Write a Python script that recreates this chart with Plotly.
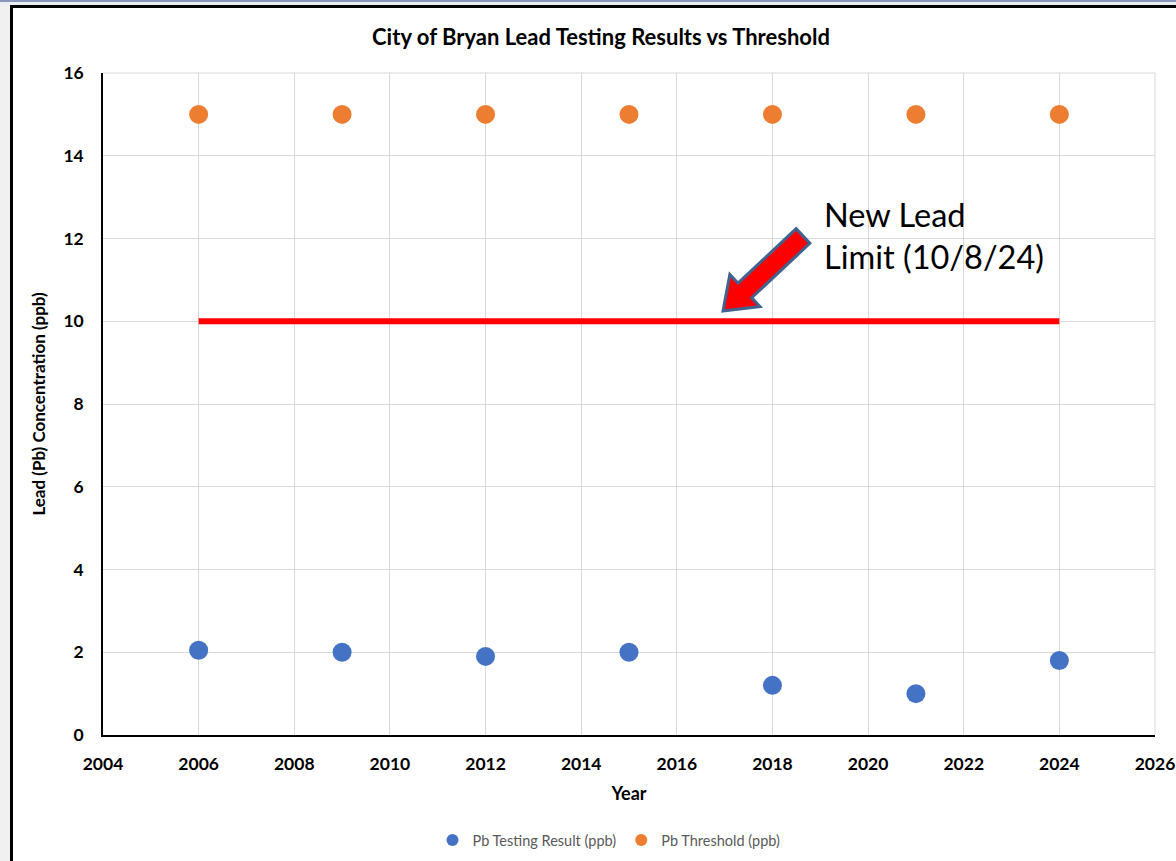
import plotly.graph_objects as go
import math

years = [2006, 2009, 2012, 2015, 2018, 2021, 2024]
pb_result = [2.05, 2.0, 1.9, 2.0, 1.2, 1.0, 1.8]
pb_threshold = [15, 15, 15, 15, 15, 15, 15]
new_limit_x = [2006, 2024]
new_limit_y = [10, 10]

W, H = 1176, 861
L, R, T, B = 103, 21, 73, 126
X0, X1, Y0, Y1 = 2004, 2026, 0, 16
pw, ph = W - L - R, H - T - B

FONT = "Lato"

def px2data(px, py):
    return (X0 + (px - L) / pw * (X1 - X0), Y0 + (H - B - py) / ph * (Y1 - Y0))

def px2paper(px, py):
    return ((px - L) / pw, (H - B - py) / ph)

fig = go.Figure()
fig.add_trace(go.Scatter(x=new_limit_x, y=new_limit_y, mode="lines",
                         line=dict(color="#ff0000", width=6), showlegend=False, hoverinfo="skip"))
fig.add_trace(go.Scatter(x=years, y=pb_result, mode="markers", name="Pb Testing Result (ppb)",
                         marker=dict(color="#4472c4", size=19)))
fig.add_trace(go.Scatter(x=years, y=pb_threshold, mode="markers", name="Pb Threshold (ppb)",
                         marker=dict(color="#ed7d31", size=19)))

# block arrow (decoration) built in pixel space
tip = (723, 311)
tail = (803, 236)
ux, uy = tail[0] - tip[0], tail[1] - tip[1]
ln = math.hypot(ux, uy)
ux, uy = ux / ln, uy / ln
nx, ny = -uy, ux
head_len, head_hw, shaft_hw = 30, 22, 10
bx, by = tip[0] + ux * head_len, tip[1] + uy * head_len
pts = [
    tip,
    (bx + nx * head_hw, by + ny * head_hw),
    (bx + nx * shaft_hw, by + ny * shaft_hw),
    (tail[0] + nx * shaft_hw, tail[1] + ny * shaft_hw),
    (tail[0] - nx * shaft_hw, tail[1] - ny * shaft_hw),
    (bx - nx * shaft_hw, by - ny * shaft_hw),
    (bx - nx * head_hw, by - ny * head_hw),
]
dpts = [px2data(*p) for p in pts]
path = "M " + " L ".join(f"{x},{y}" for x, y in dpts) + " Z"

shapes = [
    dict(type="path", xref="x", yref="y", path=path, fillcolor="#ff0000",
         line=dict(color="#41628f", width=3)),
]

def prect(x0, y0, x1, y1, fill):
    a = px2paper(x0, y1)
    b = px2paper(x1, y0)
    return dict(type="rect", xref="paper", yref="paper", x0=a[0], y0=a[1], x1=b[0], y1=b[1],
                fillcolor=fill, line=dict(width=0), layer="above")

shapes += [
    prect(0, 0, 10, H, "#f0f0f0"),
    prect(0, 0, W, 5, "#e9ecf3"),
    prect(0, 0, W, 2, "#8a96b8"),
    prect(10, 5, W, 8, "#000000"),
    prect(10, 5, 13, H, "#000000"),
    dict(type="line", xref="paper", yref="paper", x0=0, x1=1, y0=1, y1=1, line=dict(color="#d9d9d9", width=1)),
    dict(type="line", xref="paper", yref="paper", x0=1, x1=1, y0=0, y1=1, line=dict(color="#d9d9d9", width=1)),
]

tx, ty = px2paper(822, 193)
fig.update_layout(
    width=W, height=H,
    margin=dict(l=L, r=R, t=T, b=B, autoexpand=False),
    paper_bgcolor="white", plot_bgcolor="white",
    font=dict(family=FONT, color="#000000"),
    title=dict(text="<b>City of Bryan Lead Testing Results vs Threshold</b>",
               x=601 / W, xanchor="center", y=1 - 37 / H, yanchor="middle",
               font=dict(size=22, family=FONT, color="#000000")),
    xaxis=dict(range=[X0, X1], dtick=2, tick0=2004, showgrid=True, gridcolor="#d9d9d9", gridwidth=1,
               showline=True, linecolor="#000000", linewidth=1.5, zeroline=False, automargin=False,
               tickfont=dict(size=17.5, family=FONT, weight="bold"), ticks="", ticklabelstandoff=12,
               title=dict(text="<b>Year</b>", font=dict(size=18, family=FONT), standoff=15)),
    yaxis=dict(range=[Y0, Y1], dtick=2, showgrid=True, gridcolor="#d9d9d9", gridwidth=1,
               showline=True, linecolor="#000000", linewidth=1.5, zeroline=False, automargin=False,
               tickfont=dict(size=17.5, family=FONT, weight="bold"), ticks="", ticklabelstandoff=14,
               title=dict(text="<b>Lead (Pb) Concentration (ppb)</b>", font=dict(size=17, family=FONT), standoff=13)),
    legend=dict(orientation="h", x=0.5 - 20 / pw, xanchor="center", y=px2paper(0, 840)[1], yanchor="middle",
                font=dict(size=14.5, family=FONT, color="#595959"), itemsizing="constant",
                bgcolor="rgba(0,0,0,0)"),
    shapes=shapes,
    annotations=[dict(text="New Lead<br>Limit (10/8/24)", xref="paper", yref="paper", x=tx, y=ty,
                      xanchor="left", yanchor="top", align="left", showarrow=False,
                      font=dict(size=32.5, family=FONT, color="#000000"))],
)

fig.write_html("out.html", config={"displayModeBar": False},
               post_script="document.body.style.margin='0';document.body.style.overflow='hidden';")
